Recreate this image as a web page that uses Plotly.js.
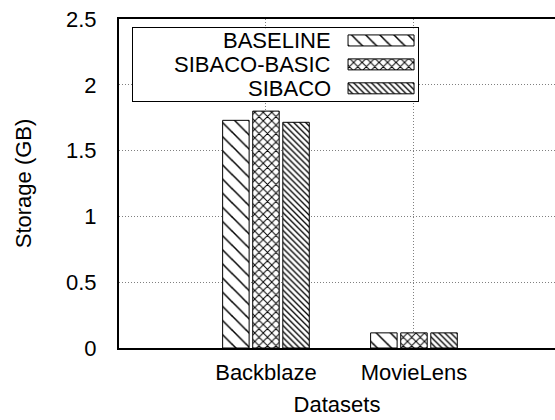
<!DOCTYPE html>
<html>
<head>
<meta charset="utf-8">
<script src="https://cdn.plot.ly/plotly-3.0.1.min.js"></script>
<style>
html, body { margin: 0; padding: 0; overflow: hidden; background: #fff; }
#chart { width: 555px; height: 420px; }
</style>
</head>
<body>
<div id="chart"></div>
<script>
// ---- data ----
var categories = ['Backblaze', 'MovieLens'];
var seriesNames = ['BASELINE', 'SIBACO-BASIC', 'SIBACO'];
var baselineValues = [1.73, 0.115];
var sibacoBasicValues = [1.80, 0.115];
var sibacoValues = [1.715, 0.115];
var yTickValues = [0, 0.5, 1, 1.5, 2, 2.5];
var yTickLabels = ['0', '0.5', '1', '1.5', '2', '2.5'];
var xTitle = 'Datasets';
var yTitle = 'Storage (GB)';

// ---- styles ----
var FONT = 'Liberation Sans, Arial, Helvetica, sans-serif';
var FS = 22;
var patterns = [
  {shape: '\\', size: 10, solidity: 0.15},
  {shape: 'x', size: 6, solidity: 0.3},
  {shape: '\\', size: 4.2, solidity: 0.32}
];
var seriesValues = [baselineValues, sibacoBasicValues, sibacoValues];

var traces = seriesValues.map(function (vals, i) {
  return {
    type: 'bar',
    name: seriesNames[i],
    x: categories,
    y: vals,
    xaxis: 'x', yaxis: 'y',
    marker: {
      color: 'white',
      line: {color: 'black', width: 1},
      pattern: {shape: patterns[i].shape, size: patterns[i].size, solidity: patterns[i].solidity,
                fgcolor: 'black', bgcolor: 'white', fillmode: 'replace'}
    },
    showlegend: false,
    hoverinfo: 'skip'
  };
});

// legend key swatches (drawn on a small helper subplot)
traces.push({
  type: 'bar',
  orientation: 'h',
  y: seriesNames,
  x: seriesNames.map(function () { return 1; }),
  base: 0,
  width: 0.46,
  xaxis: 'x2', yaxis: 'y2',
  marker: {
    color: 'white',
    line: {color: 'black', width: 1},
    pattern: {
      shape: patterns.map(function (p) { return p.shape; }),
      size: patterns.map(function (p) { return p.size; }),
      solidity: patterns.map(function (p) { return p.solidity; }),
      fgcolor: 'black', bgcolor: 'white', fillmode: 'replace'
    }
  },
  showlegend: false,
  hoverinfo: 'skip'
});

var legendAnnotations = seriesNames.map(function (n, i) {
  return {
    xref: 'x2', yref: 'y2', x: -0.23, y: i,
    text: n, showarrow: false, xanchor: 'right', yanchor: 'middle',
    font: {family: FONT, size: FS, color: 'black'}
  };
});

var layout = {
  width: 555, height: 420,
  margin: {l: 119, r: 0, t: 18.5, b: 71.5, pad: 0},
  paper_bgcolor: 'white', plot_bgcolor: 'white',
  font: {family: FONT, size: FS, color: 'black'},
  barmode: 'group',
  bargap: 0.39,
  bargroupgap: 0.12,
  showlegend: false,
  xaxis: {
    type: 'category',
    range: [-0.993, 1.953],
    showline: true, linecolor: 'black', linewidth: 2, mirror: true,
    showgrid: true, gridcolor: '#808080', griddash: '1px,2px', gridwidth: 1,
    ticks: '', ticklabelstandoff: 4,
    tickfont: {family: FONT, size: FS, color: 'black'},
    title: {text: xTitle, font: {family: FONT, size: FS, color: 'black'}, standoff: 12},
    zeroline: false, fixedrange: true
  },
  yaxis: {
    range: [0, 2.5],
    tickvals: yTickValues, ticktext: yTickLabels,
    showline: true, linecolor: 'black', linewidth: 2, mirror: false,
    showgrid: true, gridcolor: '#808080', griddash: '1px,2px', gridwidth: 1,
    ticks: '', ticklabelstandoff: 16,
    tickfont: {family: FONT, size: FS, color: 'black'},
    title: {text: yTitle, font: {family: FONT, size: FS, color: 'black'}, standoff: 28},
    zeroline: false, fixedrange: true
  },
  xaxis2: {
    domain: [0.0321, 0.6858], anchor: 'y2',
    range: [-3.258, 1.06],
    showline: true, mirror: true, linecolor: 'black', linewidth: 1,
    showgrid: false, zeroline: false, showticklabels: false, ticks: '', fixedrange: true
  },
  yaxis2: {
    domain: [0.75, 0.9712], anchor: 'x2',
    type: 'category',
    range: [2.54, -0.5],
    showline: true, mirror: true, linecolor: 'black', linewidth: 1,
    showgrid: false, zeroline: false, showticklabels: false, ticks: '', fixedrange: true
  },
  shapes: [{
    type: 'rect', xref: 'x2', yref: 'y2', layer: 'below',
    x0: -3.258, x1: 1.06, y0: -0.5, y1: 2.54,
    fillcolor: 'white', line: {width: 0}
  }],
  annotations: legendAnnotations
};

Plotly.newPlot('chart', traces, layout, {staticPlot: true, displayModeBar: false});
</script>
</body>
</html>
